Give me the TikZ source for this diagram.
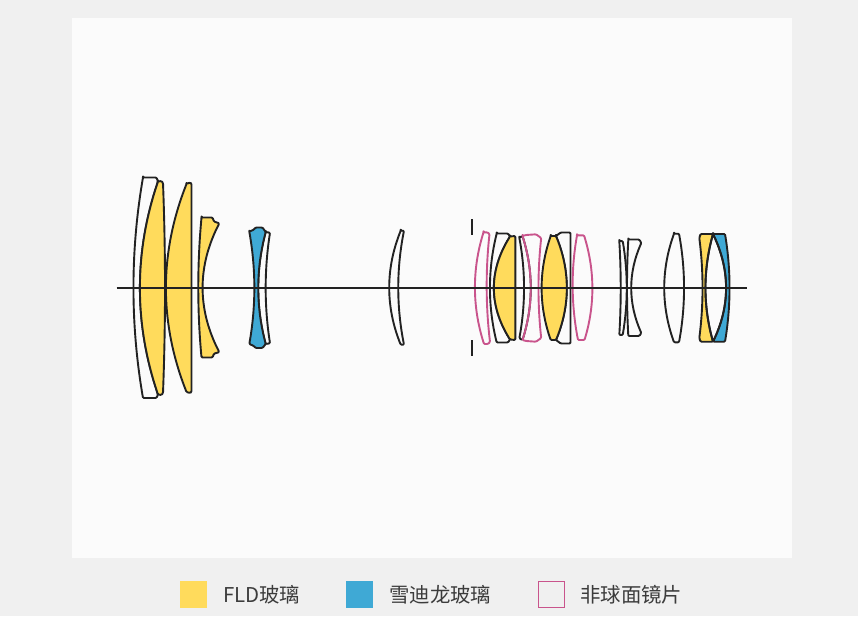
\documentclass[tikz,border=0pt]{standalone}
\usepackage{fontspec}
\setmainfont{Noto Sans CJK SC}
\definecolor{pagebg}{HTML}{F0F0F0}
\definecolor{panelbg}{HTML}{FBFBFB}
\definecolor{ink}{HTML}{222222}
\definecolor{fld}{HTML}{FFDB5C}
\definecolor{sld}{HTML}{3FA9D5}
\definecolor{asph}{HTML}{C9548C}
\definecolor{legtext}{HTML}{3C3C3C}
% \bow{x0}{y0}{xmid}{x2}{y2}: a symmetric bowed edge from (x0,y0) through x=xmid to (x2,y2)
\newcommand\bow[5]{.. controls ({(#1)/3+(2/3)*(2*(#3)-((#1)+(#4))/2)},{(#2)+((#5)-(#2))/3}) and ({(#4)/3+(2/3)*(2*(#3)-((#1)+(#4))/2)},{(#5)-((#5)-(#2))/3}) .. (#4,#5)}
\tikzset{
  lensbase/.style={line width=1.9pt,line join=round,rounded corners=1pt},
  lensw/.style={lensbase,draw=ink},
  lensy/.style={lensbase,draw=ink,fill=fld},
  lensb/.style={lensbase,draw=ink,fill=sld},
  lensp/.style={lensbase,draw=asph},
  axisline/.style={line width=1.8pt,draw=ink},
  stopline/.style={line width=1.9pt,draw=ink},
  legsq/.style={minimum size=27pt,inner sep=0pt,outer sep=0pt},
  legtxt/.style={anchor=west,inner sep=0pt,text=legtext,font=\fontsize{20.4}{24}\selectfont},
}
\begin{document}
\begin{tikzpicture}[x=1pt,y=-1pt]
\useasboundingbox (0,0) rectangle (858,616);
\fill[pagebg] (0,0) rectangle (858,616);
\fill[panelbg] (72,18) rectangle (792,558);

% group 1
\draw[lensw] (143,177.5) -- (156.5,177.5) -- (158,181.5) \bow{158}{181.5}{140}{158}{394.5} -- (156.5,398) -- (143,398) \bow{143}{398}{133.5}{143}{177.5} -- cycle;
\draw[lensy] (158,181.5) -- (161.5,181) -- (163,183) \bow{163}{183}{165}{163}{393} -- (161.5,395) -- (158,394.5) \bow{158}{394.5}{140}{158}{181.5} -- cycle;
\draw[lensy] (186.5,184) -- (190,182.5) -- (191.5,183.5) -- (191.5,392) -- (190,393) -- (186.5,392) \bow{186.5}{392}{166}{186.5}{184} -- cycle;
\draw[lensy] (201.5,217.5) -- (212.5,217.5) -- (214,221.5) -- (219.3,223.3) \bow{219.3}{223.3}{202.7}{219.3}{352.2} -- (214,353.6) -- (212.5,357.5) -- (201.5,357.5) \bow{201.5}{357.5}{198.3}{201.5}{217.5} -- cycle;
\draw[lensw] (265.7,232) -- (270,232.7) \bow{270}{232.7}{265.7}{270}{343.3} -- (265.7,344) \bow{265.7}{344}{258.3}{265.7}{232} -- cycle;
\draw[lensb] (249.3,231.7) -- (254,229.5) -- (255.5,227.5) -- (262.5,227.5) -- (265.7,232) \bow{265.7}{232}{258.3}{265.7}{344} -- (262.5,348) -- (255.5,348) -- (254,346) -- (249.3,344) \bow{249.3}{344}{254.3}{249.3}{231.7} -- cycle;

% group 2
\draw[lensw] (400.7,230.7) -- (404,230.7) \bow{404}{230.7}{398.3}{404}{344.7} -- (400.7,344.7) \bow{400.7}{344.7}{389.3}{400.7}{230.7} -- cycle;
\draw[stopline] (471.7,219) -- (471.7,235);
\draw[stopline] (471.7,340) -- (471.7,356);

% group 3
\draw[lensp] (483.5,232.3) -- (487.3,232.3) -- (489.5,234) \bow{489.5}{234}{486.7}{490}{342} -- (488,344) -- (484,344) \bow{484}{344}{475}{483.5}{232.3} -- cycle;
\draw[lensw] (496.7,233.5) -- (508,233.5) -- (510,236.5) \bow{510}{236.5}{494}{510}{339.5} -- (508,342.5) -- (496.7,342.5) \bow{496.7}{342.5}{490}{496.7}{233.5} -- cycle;
\draw[lensy] (510,236.5) -- (515.3,236) -- (515.3,340) -- (510,339.5) \bow{510}{339.5}{494}{510}{236.5} -- cycle;
\draw[lensw] (519.3,237.7) -- (522.5,236) \bow{522.5}{236}{530.7}{522.5}{340} -- (519.3,338.3) \bow{519.3}{338.3}{524}{519.3}{237.7} -- cycle;
\draw[lensp] (522.5,236) -- (526,235) -- (536,234.3) -- (541.2,238) \bow{541.2}{238}{538.5}{541.2}{338} -- (536,341.7) -- (526,341) -- (522.5,340) \bow{522.5}{340}{530.7}{522.5}{236} -- cycle;
\draw[lensw] (556,236) -- (560.7,232.5) -- (570.5,232.5) -- (570.5,343.5) -- (560.7,343.5) -- (556,340) \bow{556}{340}{566.7}{556}{236} -- cycle;
\draw[lensy] (550.7,236) -- (556,236) \bow{556}{236}{566.7}{556}{340} -- (550.7,340) \bow{550.7}{340}{541.7}{550.7}{236} -- cycle;
\draw[lensp] (577,235.3) -- (584,235.3) \bow{584}{235.3}{592.3}{584.5}{340} -- (578,340) \bow{578}{340}{572.7}{577}{235.3} -- cycle;

% group 4
\draw[lensw] (619.3,241) -- (622.7,241) \bow{622.7}{241}{626.7}{622.7}{335} -- (619.3,335) \bow{619.3}{335}{620.7}{619.3}{241} -- cycle;
\draw[lensw] (628.3,239.5) -- (639.3,239.5) -- (641.3,243) \bow{641.3}{243}{631.3}{641.3}{333} -- (639.3,336) -- (628.3,336) \bow{628.3}{336}{627}{628.3}{239.5} -- cycle;
\draw[lensw] (674,233.7) -- (679,233.7) \bow{679}{233.7}{684}{679}{342.3} -- (674,342.3) \bow{674}{342.3}{664.3}{674}{233.7} -- cycle;
\draw[lensy] (700.5,234) -- (713,234) \bow{713}{234}{705.5}{713}{341.7} -- (700.5,341.7) -- (699.3,338) \bow{699.3}{338}{702.5}{699.3}{238} -- cycle;
\draw[lensb] (713,234) -- (725,234) \bow{725}{234}{729.5}{725}{341.7} -- (713,341.7) \bow{713}{341.7}{726}{713}{234} -- cycle;
\draw[lensw] (713,234) \bow{713}{234}{726}{713}{341.7} \bow{713}{341.7}{705.5}{713}{234};

\draw[axisline] (116.5,288) -- (747,288);

% legend
\node[legsq,fill=fld] (sqfld) at (193.5,594.5) {};
\node[legsq,fill=sld] (sqsld) at (359.5,594.5) {};
\node[legsq,minimum size=26pt,draw=asph,line width=1pt] (sqasph) at (551.5,594.5) {};
\node[legtxt] (tfld) at (223,595) {FLD玻璃};
\node[legtxt] (tsld) at (389,595) {雪迪龙玻璃};
\node[legtxt] (tasph) at (580,595) {非球面镜片};
\end{tikzpicture}
\end{document}
